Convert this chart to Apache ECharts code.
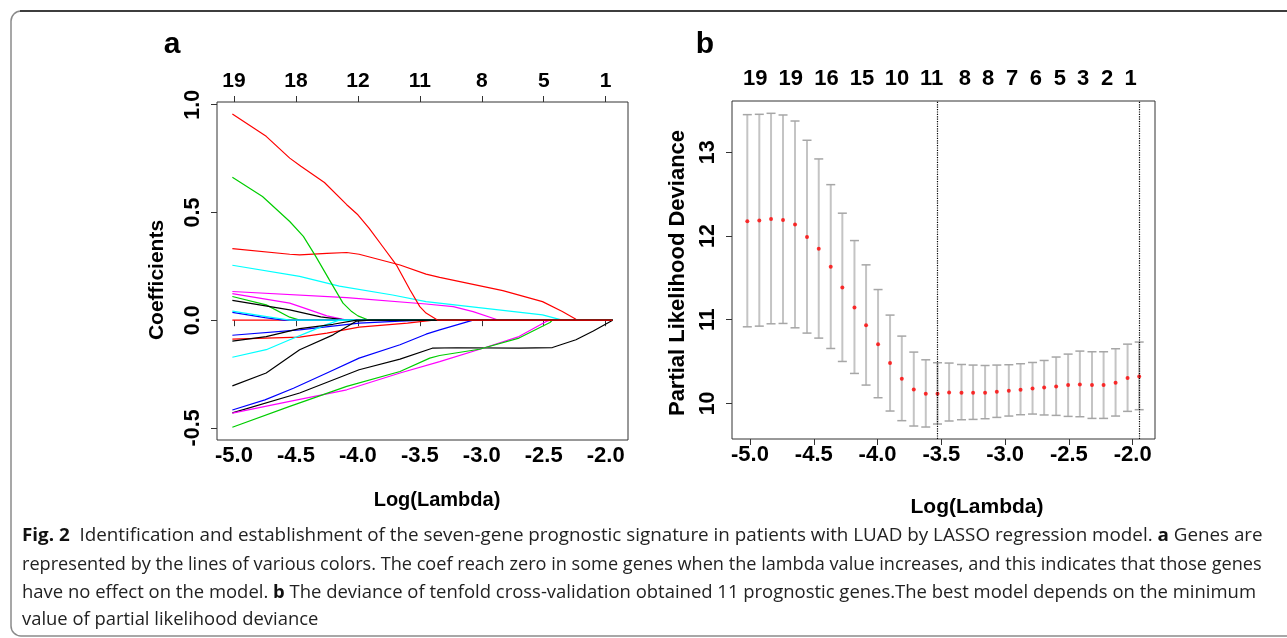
<!DOCTYPE html>
<html>
<head>
<meta charset="utf-8">
<script src="https://cdn.jsdelivr.net/npm/echarts@6/dist/echarts.min.js"></script>
<style>
  html, body { margin: 0; padding: 0; background: #fff; }
  #chart { width: 1287px; height: 638px; }
</style>
</head>
<body>
<div id="chart"></div>
<script>
// ---------- Panel a: LASSO coefficient paths ----------
const coefTicks = [-5.0, -4.5, -4.0, -3.5, -3.0, -2.5, -2.0];
const coefTopCounts = ['19', '18', '12', '11', '8', '5', '1'];
const coefYTicks = [-0.5, 0.0, 0.5, 1.0];

// each path: [log(lambda), coefficient]
const pathRedFlat = [[-5.013, 0], [-1.944, 0]];
const pathRed3 = [[-5.013, 0.332], [-4.55, 0.306], [-4.47, 0.303], [-4.25, 0.310], [-4.09, 0.314], [-3.99, 0.306], [-3.66, 0.256], [-3.45, 0.214], [-3.34, 0.199], [-2.83, 0.137], [-2.51, 0.086], [-2.35, 0.040], [-2.24, 0.004], [-2.20, 0], [-1.944, 0]];
const pathCyan1 = [[-5.013, 0.255], [-4.47, 0.203], [-4.15, 0.158], [-3.72, 0.117], [-3.45, 0.086], [-2.51, 0.025], [-2.35, 0], [-1.944, 0]];
const pathMagenta1 = [[-5.013, 0.133], [-4.09, 0.105], [-3.45, 0.075], [-3.23, 0.063], [-3.07, 0.040], [-2.88, 0.003], [-2.85, 0], [-1.944, 0]];
const pathMagenta2 = [[-5.013, 0.123], [-4.55, 0.079], [-4.39, 0.048], [-4.25, 0.020], [-4.09, 0], [-1.944, 0]];
const pathGreen2 = [[-5.013, 0.110], [-4.74, 0.071], [-4.55, 0.014], [-4.47, 0], [-1.944, 0]];
const pathBlack1 = [[-5.013, 0.092], [-4.55, 0.048], [-4.30, 0.015], [-4.09, 0], [-1.944, 0]];
const pathBlue1 = [[-5.013, 0.036], [-4.75, 0.012], [-4.60, 0], [-1.944, 0]];
const pathBlue2 = [[-5.013, -0.070], [-4.47, -0.045], [-3.99, -0.014], [-3.66, -0.004], [-3.45, 0], [-1.944, 0]];
const pathRed4 = [[-5.013, -0.088], [-4.47, -0.079], [-4.25, -0.060], [-3.99, -0.032], [-3.60, -0.014], [-3.39, 0], [-1.944, 0]];
const pathCyan3 = [[-5.013, -0.172], [-4.74, -0.137], [-4.55, -0.091], [-4.39, -0.053], [-4.26, -0.022], [-4.15, 0], [-1.944, 0]];
const pathBlue3 = [[-5.013, -0.417], [-4.75, -0.370], [-4.52, -0.316], [-4.25, -0.245], [-3.99, -0.176], [-3.66, -0.114], [-3.45, -0.065], [-3.34, -0.045], [-3.07, 0], [-1.944, 0]];
const pathBlack4 = [[-5.013, -0.430], [-4.47, -0.338], [-3.99, -0.230], [-3.66, -0.181], [-3.40, -0.130], [-3.20, -0.128], [-2.70, -0.130], [-2.43, -0.127], [-2.24, -0.091], [-2.10, -0.050], [-1.944, 0]];
const pathMagenta3 = [[-5.013, -0.431], [-4.55, -0.377], [-4.09, -0.323], [-3.66, -0.245], [-3.34, -0.192], [-2.99, -0.130], [-2.70, -0.076], [-2.48, -0.006], [-2.45, 0], [-1.944, 0]];
const pathGreen3 = [[-5.013, -0.497], [-4.55, -0.400], [-4.09, -0.307], [-3.66, -0.238], [-3.42, -0.176], [-3.34, -0.164], [-3.02, -0.135], [-2.70, -0.083], [-2.45, -0.011], [-2.43, 0], [-1.944, 0]];
const pathGreen1 = [[-5.013, 0.663], [-4.77, 0.574], [-4.55, 0.458], [-4.44, 0.389], [-4.34, 0.296], [-4.23, 0.187], [-4.12, 0.079], [-4.05, 0.040], [-4.00, 0.020], [-3.91, 0], [-1.944, 0]];
const pathCyan2 = [[-5.013, 0.042], [-4.75, 0.018], [-4.55, 0], [-1.944, 0]];
const pathBlack2 = [[-5.013, -0.097], [-4.74, -0.076], [-4.47, -0.039], [-4.20, -0.019], [-4.01, 0], [-1.944, 0]];
const pathBlack3 = [[-5.013, -0.305], [-4.74, -0.245], [-4.47, -0.137], [-4.20, -0.068], [-4.01, -0.004], [-3.90, 0], [-1.944, 0]];
const pathRed1 = [[-5.013, 0.957], [-4.74, 0.853], [-4.55, 0.752], [-4.46, 0.714], [-4.27, 0.639], [-4.09, 0.536], [-4.00, 0.489], [-3.91, 0.427], [-3.80, 0.342], [-3.69, 0.257], [-3.58, 0.141], [-3.50, 0.063], [-3.45, 0.033], [-3.355, 0], [-1.944, 0]];

const R_BLACK = '#000000', R_RED = '#ff0000', R_GREEN = '#00cd00', R_BLUE = '#0000ff', R_CYAN = '#00ffff', R_MAGENTA = '#ff00ff';

// drawing order: later paths sit on top along the zero line
const coefPaths = [
  [pathRedFlat, R_RED], [pathRed3, R_RED], [pathCyan1, R_CYAN], [pathMagenta1, R_MAGENTA],
  [pathMagenta2, R_MAGENTA], [pathGreen2, R_GREEN], [pathBlack1, R_BLACK], [pathBlue1, R_BLUE],
  [pathBlue2, R_BLUE], [pathRed4, R_RED], [pathCyan3, R_CYAN], [pathBlue3, R_BLUE],
  [pathBlack4, R_BLACK], [pathMagenta3, R_MAGENTA], [pathGreen3, R_GREEN], [pathGreen1, R_GREEN],
  [pathCyan2, R_CYAN], [pathBlack2, R_BLACK], [pathBlack3, R_BLACK], [pathRed1, R_RED]
];

// ---------- Panel b: 10-fold cross-validation ----------
const cvTicks = [-5.0, -4.5, -4.0, -3.5, -3.0, -2.5, -2.0];
const cvYTicks = [10, 11, 12, 13];
const cvLogLambda = [-5.021, -4.927, -4.835, -4.741, -4.647, -4.553, -4.461, -4.367, -4.276, -4.181, -4.090, -3.996, -3.902, -3.810, -3.716, -3.622, -3.530, -3.439, -3.342, -3.251, -3.157, -3.065, -2.971, -2.879, -2.785, -2.694, -2.600, -2.506, -2.414, -2.319, -2.228, -2.134, -2.040, -1.949];
const cvMean = [12.177, 12.184, 12.204, 12.192, 12.136, 11.989, 11.846, 11.631, 11.384, 11.146, 10.935, 10.708, 10.482, 10.295, 10.167, 10.116, 10.116, 10.131, 10.128, 10.128, 10.128, 10.140, 10.152, 10.163, 10.179, 10.191, 10.203, 10.219, 10.227, 10.219, 10.219, 10.247, 10.303, 10.322];
const cvUpper = [13.449, 13.453, 13.465, 13.445, 13.373, 13.143, 12.920, 12.613, 12.272, 11.945, 11.655, 11.360, 11.055, 10.804, 10.613, 10.521, 10.486, 10.482, 10.465, 10.458, 10.453, 10.458, 10.462, 10.474, 10.489, 10.513, 10.554, 10.589, 10.625, 10.617, 10.617, 10.653, 10.708, 10.733];
const cvLower = [10.915, 10.923, 10.951, 10.955, 10.903, 10.840, 10.780, 10.656, 10.501, 10.358, 10.219, 10.068, 9.909, 9.794, 9.730, 9.718, 9.754, 9.790, 9.805, 9.809, 9.817, 9.833, 9.849, 9.865, 9.873, 9.862, 9.857, 9.845, 9.841, 9.821, 9.821, 9.849, 9.905, 9.925];
const cvTopPos = [-4.958, -4.681, -4.401, -4.122, -3.847, -3.577, -3.316, -3.133, -2.945, -2.759, -2.571, -2.388, -2.200, -2.016];
const cvTopCounts = ['19', '19', '16', '15', '10', '11', '8', '8', '7', '6', '5', '3', '2', '1'];
const lambdaMin = -3.530;
const lambda1se = -1.949;

// ---------- shared styling ----------
const FONT = 'Liberation Sans, Arial, sans-serif';
const tickFont = { fontFamily: FONT, fontWeight: 'bold', fontSize: 22, color: '#000' };
const AXIS_COLOR = '#333';

function nearestLabel(positions, labels) {
  return function (v) {
    let best = 0;
    for (let i = 1; i < positions.length; i++) {
      if (Math.abs(positions[i] - v) < Math.abs(positions[best] - v)) best = i;
    }
    return labels[best];
  };
}

function bottomAxis(gridIndex, min, max, ticks) {
  return {
    type: 'value', gridIndex, position: 'bottom', min, max,
    axisLine: { show: false },
    splitLine: { show: false },
    axisTick: { show: true, length: 6, customValues: ticks, lineStyle: { color: AXIS_COLOR, width: 1 } },
    axisLabel: Object.assign({ customValues: ticks, margin: 5, formatter: v => v.toFixed(1) }, tickFont)
  };
}

function leftAxis(gridIndex, min, max, ticks, fmt) {
  return {
    type: 'value', gridIndex, position: 'left', min, max,
    axisLine: { show: false },
    splitLine: { show: false },
    axisTick: { show: true, length: 6, customValues: ticks, lineStyle: { color: AXIS_COLOR, width: 1 } },
    axisLabel: Object.assign({ customValues: ticks, rotate: 90, margin: 13, formatter: fmt }, tickFont, { fontSize: 21.5 })
  };
}

const coefSeries = coefPaths.map(([pts, color]) => ({
  type: 'line', xAxisIndex: 0, yAxisIndex: 0,
  data: pts, showSymbol: false, symbol: 'none',
  lineStyle: { color, width: 1.2 },
  silent: true
}));

const errorBarSeries = {
  type: 'custom', xAxisIndex: 2, yAxisIndex: 1,
  data: cvLogLambda.map((x, i) => [x, cvLower[i], cvUpper[i]]),
  encode: { x: 0, y: [1, 2] },
  renderItem: function (params, api) {
    const x = api.value(0);
    const pLo = api.coord([x, api.value(1)]);
    const pHi = api.coord([x, api.value(2)]);
    const hw = 4.5;
    return {
      type: 'group',
      children: [
        { type: 'line', shape: { x1: pLo[0], y1: pLo[1], x2: pHi[0], y2: pHi[1] }, style: { stroke: '#c4c4c4', lineWidth: 2 } },
        { type: 'line', shape: { x1: pHi[0] - hw, y1: pHi[1], x2: pHi[0] + hw, y2: pHi[1] }, style: { stroke: '#a6a6a6', lineWidth: 1.5 } },
        { type: 'line', shape: { x1: pLo[0] - hw, y1: pLo[1], x2: pLo[0] + hw, y2: pLo[1] }, style: { stroke: '#a6a6a6', lineWidth: 1.5 } }
      ]
    };
  },
  silent: true
};

const meanSeries = {
  type: 'scatter', xAxisIndex: 2, yAxisIndex: 1,
  data: cvLogLambda.map((x, i) => [x, cvMean[i]]),
  symbol: 'circle', symbolSize: 4,
  itemStyle: { color: '#ff0000' },
  z: 4, silent: true,
  markLine: {
    silent: true, symbol: ['none', 'none'],
    label: { show: false },
    lineStyle: { type: 'dotted', color: '#000', width: 1.2 },
    data: [{ xAxis: lambdaMin }, { xAxis: lambda1se }]
  }
};

const CAP_SIZE = 18.4;
const captionStyle = { fontFamily: 'Open Sans, sans-serif', fontSize: CAP_SIZE, fill: '#222' };
const captionRich = {
  fig: { fontFamily: 'Open Sans, sans-serif', fontSize: CAP_SIZE, fontWeight: 'bold', fill: '#111' },
  bl: { fontFamily: 'Open Sans, sans-serif', fontSize: CAP_SIZE, fontWeight: 'bold', fill: '#111' }
};
const captionLines = [
  '{fig|Fig. 2}  Identification and establishment of the seven-gene prognostic signature in patients with LUAD by LASSO regression model. {bl|a} Genes are',
  'represented by the lines of various colors. The coef reach zero in some genes when the lambda value increases, and this indicates that those genes',
  'have no effect on the model. {bl|b} The deviance of tenfold cross-validation obtained 11 prognostic genes.The best model depends on the minimum',
  'value of partial likelihood deviance'
];
const captionY = [536, 565, 593, 620];
// horizontal fit of each justified caption line
const captionScaleX = [1.023, 0.986, 1.004, 1.0];

const graphics = [
  { type: 'rect', shape: { x: 11, y: 11, width: 1400, height: 625, r: 10 }, style: { fill: 'none', stroke: '#8a8a8a', lineWidth: 1.5 }, z: 0 },
  { type: 'line', shape: { x1: 20, y1: 11, x2: 1287, y2: 11 }, style: { stroke: '#1a1a1a', lineWidth: 1.5 }, z: 1 },
  { type: 'text', x: 172, y: 45, style: { text: 'a', font: 'bold 30px ' + FONT, fill: '#000', textAlign: 'center', textVerticalAlign: 'middle' } },
  { type: 'text', x: 705, y: 45, style: { text: 'b', font: 'bold 30px ' + FONT, fill: '#000', textAlign: 'center', textVerticalAlign: 'middle' } },
  { type: 'text', x: 157, y: 280, rotation: Math.PI / 2, style: { text: 'Coefficients', font: 'bold 21px ' + FONT, fill: '#000', textAlign: 'center', textVerticalAlign: 'middle' } },
  { type: 'text', x: 678, y: 273, rotation: Math.PI / 2, style: { text: 'Partial Likelihood Deviance', font: 'bold 22px ' + FONT, fill: '#000', textAlign: 'center', textVerticalAlign: 'middle' } },
  { type: 'text', x: 437, y: 500, style: { text: 'Log(Lambda)', font: 'bold 20px ' + FONT, fill: '#000', textAlign: 'center', textVerticalAlign: 'middle' } },
  { type: 'text', x: 977, y: 507, style: { text: 'Log(Lambda)', font: 'bold 21px ' + FONT, fill: '#000', textAlign: 'center', textVerticalAlign: 'middle' } }
].concat(captionLines.map((t, i) => ({
  type: 'text', x: 22, y: captionY[i], scaleX: captionScaleX[i],
  style: Object.assign({ text: t, rich: captionRich, textVerticalAlign: 'middle' }, captionStyle)
})));

const chart = echarts.init(document.getElementById('chart'), null, { renderer: 'canvas' });
chart.setOption({
  animation: false,
  backgroundColor: '#fff',
  grid: [
    { left: 217, top: 102, width: 411, height: 338, show: true, borderColor: AXIS_COLOR, borderWidth: 1, backgroundColor: 'transparent', containLabel: false },
    { left: 732, top: 101, width: 423, height: 338, show: true, borderColor: AXIS_COLOR, borderWidth: 1, backgroundColor: 'transparent', containLabel: false }
  ],
  xAxis: [
    bottomAxis(0, -5.137, -1.82, coefTicks),
    {
      type: 'value', gridIndex: 0, position: 'top', min: -5.137, max: -1.82,
      axisLine: { show: false }, splitLine: { show: false },
      axisTick: { show: true, length: 6, customValues: coefTicks, lineStyle: { color: AXIS_COLOR, width: 1 } },
      axisLabel: Object.assign({ customValues: coefTicks, margin: 10, formatter: nearestLabel(coefTicks, coefTopCounts) }, tickFont, { fontSize: 21 })
    },
    bottomAxis(1, -5.141, -1.825, cvTicks),
    {
      type: 'value', gridIndex: 1, position: 'top', min: -5.141, max: -1.825,
      axisLine: { show: false }, splitLine: { show: false },
      axisTick: { show: false },
      axisLabel: Object.assign({ customValues: cvTopPos, margin: 11, formatter: nearestLabel(cvTopPos, cvTopCounts) }, tickFont)
    }
  ],
  yAxis: [
    leftAxis(0, -0.556, 1.0125, coefYTicks, v => v.toFixed(1)),
    leftAxis(1, 9.575, 13.612, cvYTicks, v => String(v))
  ],
  series: coefSeries.concat([errorBarSeries, meanSeries]),
  graphic: graphics
});
</script>
</body>
</html>
